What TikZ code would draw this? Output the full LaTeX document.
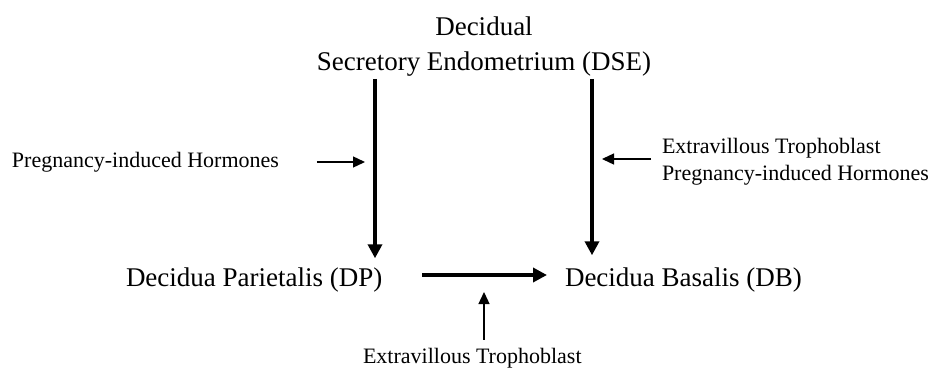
\documentclass[tikz,border=0pt]{standalone}
\usepackage{fontspec}
\setmainfont{Liberation Serif}
\usetikzlibrary{arrows.meta}
\tikzset{
  big/.style={inner sep=0pt, outer sep=0pt, font=\fontsize{27}{35}\selectfont},
  small/.style={inner sep=0pt, outer sep=0pt, font=\fontsize{22}{27}\selectfont},
  bigarrow/.style={line width=3.5pt, -{Triangle[length=14pt,width=14pt]}},
  smallarrow/.style={line width=1.3pt, -{Triangle[length=12pt,width=11pt]}}
}
\begin{document}
\begin{tikzpicture}[x=1pt,y=-1pt]
\useasboundingbox (0,0) rectangle (931,367);
% text nodes
\node[big, align=center, anchor=base] (top) at (484,70) {Decidual\\Secretory Endometrium (DSE)};
\node[big, anchor=base west] (dp) at (126,286) {Decidua Parietalis (DP)};
\node[big, anchor=base west] (db) at (565,286) {Decidua Basalis (DB)};
\node[small, anchor=base west] (ph) at (12,167) {Pregnancy-induced Hormones};
\node[small, align=left, anchor=base west] (etr) at (662,180) {Extravillous Trophoblast\\Pregnancy-induced Hormones};
\node[small, anchor=base west] (bot) at (363,363) {Extravillous Trophoblast};
% helper coordinates on the thick arrows
\coordinate (vl) at (375,162);
\coordinate (vr) at (592,159);
\coordinate (hy) at (0,275);
\coordinate (hu) at (484,275);
% thick arrows
\draw[bigarrow, shorten <=3pt, shorten >=9pt] (top.south -| vl) -- (dp.north -| vl);
\draw[bigarrow, shorten <=3pt, shorten >=12pt] (top.south -| vr) -- (db.north -| vr);
\draw[bigarrow, shorten <=40pt, shorten >=18pt] (dp.east |- hy) -- (db.west |- hy);
% thin arrows
\draw[smallarrow, shorten <=38pt, shorten >=10pt] (ph.east |- vl) -- (vl);
\draw[smallarrow, shorten <=11pt, shorten >=10pt] (etr.west |- vr) -- (vr);
\draw[smallarrow, shorten <=8pt, shorten >=17pt] (bot.north -| hu) -- (hu);
\end{tikzpicture}
\end{document}
